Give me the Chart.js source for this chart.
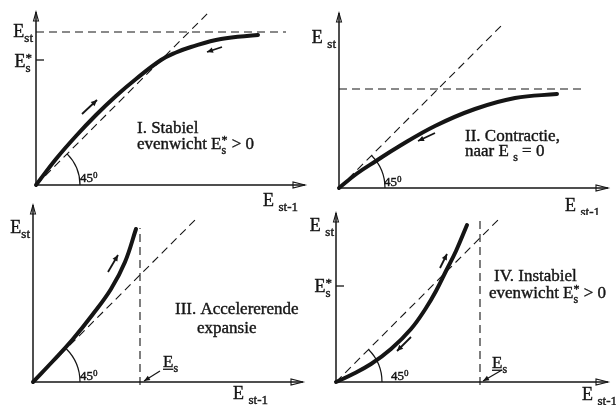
<!DOCTYPE html>
<html>
<head>
<meta charset="utf-8">
<script src="https://cdn.jsdelivr.net/npm/chart.js@4"></script>
<style>
  html, body { margin: 0; padding: 0; background: #fff; }
  #wrap { position: relative; width: 616px; height: 405px; overflow: hidden; background: #fff; }
  canvas { position: absolute; }
</style>
</head>
<body>
<div id="wrap">
  <canvas id="p1"></canvas>
  <canvas id="p2"></canvas>
  <canvas id="p3"></canvas>
  <canvas id="p4"></canvas>
</div>
<script>
const FONT = '"Liberation Serif", "DejaVu Serif", serif';
const INK = '#151515';

// curve points (units = px from each panel origin, y up)
const curveI   = [[0,0],[20,26],[40,49],[60,70],[80,89],[100,106],[125,125],[140,132.5],[155,138],[185,146],[222,150]];
const curveII  = [[0,0],[18,14.5],[37,27],[59,41],[96,62],[136,79],[176,90],[218,94]];
const curveIII = [[0,0],[20,21],[40,43],[60,68],[78,93],[92,120],[103,153]];
const curveIV  = [[0,0],[15,7],[35,18],[55,33],[75,53],[90,74],[100,91],[110,111],[120,131],[131,157]];

const diagonalEnd = [172, 162, 165, 162];   // end of the 45 degree line
const stLevel     = [153, 99, null, null];  // horizontal dashed level
const esLevel     = [null, null, 107, 144]; // vertical dashed at E_s
const esStar      = [125, null, null, 96];  // E_s* tick
const xAxisEnd    = [269, 269, 270, 272];
const yAxisEnd    = [173, 175, 177, 169];

const captions = [
  ['I. Stabiel', 'evenwicht E_{s}^{*} > 0'],
  ['II. Contractie,', 'naar E _{s} = 0'],
  ['III. Accelererende', 'expansie'],
  ['IV. Instabiel', 'evenwicht E_{s}^{*} > 0'],
];
const yLabels = ['E_{st}', 'E _{st}', 'E_{st}', 'E _{st}'];
const xLabel = 'E _{st-1}';
const starLabel = 'E_{s}^{*}';
const esLabel = 'E_{s}';
const degLabel = '45^{0}';

// panel placement
const panels = [
  { id: 'p1', left: 0,   top: 0,   ox: 36, oy: 185, curve: curveI,   arcR: 44,
    deg: [44, 7], yLab: [-3, 154], starLab: [-4, 124], cap: [[101, 58], [101, 42]], xLab: [227, -15],
    arrows: [[46, 71, 61, 85], [186, 138, 171, 133]] },
  { id: 'p2', left: 308, top: 0,   ox: 31, oy: 188, curve: curveII,  arcR: 46,
    deg: [45, 6], yLab: [-3, 151], cap: [[126, 53], [126, 38]], xLab: [226, -17],
    arrows: [[96, 55, 79, 47]] },
  { id: 'p3', left: 0,   top: 190, ox: 33, oy: 192, curve: curveIII, arcR: 47,
    deg: [47, 6], yLab: [-3, 155], cap: [[142, 74], [164, 55]], xLab: [200, -11],
    esLab: [130, 21], pointer: [127, 11, 111, 1],
    arrows: [[75, 110, 85, 127]] },
  { id: 'p4', left: 308, top: 190, ox: 28, oy: 192, curve: curveIV,  arcR: 46,
    deg: [55, 6], yLab: [-2, 157], starLab: [-4, 96], cap: [[158, 107], [153, 90]], xLab: [246, -12],
    esLab: [156, 20], pointer: [166, 12, 147, 1],
    arrows: [[104, 114, 111, 128], [75, 45, 61, 31]] },
];
const W = 308, H = 215;

function tokens(str) {
  const out = [];
  const re = /([_^])\{([^}]*)\}|([^_^]+)/g;
  let m;
  while ((m = re.exec(str))) {
    if (m[1]) out.push({ k: m[1] === '_' ? 'sub' : 'sup', t: m[2] });
    else out.push({ k: 'n', t: m[3] });
  }
  return out;
}

function drawRich(ctx, str, x, cy, size, align, underline) {
  const small = Math.round(size * 0.7);
  const items = [];
  let cx = 0, subX = 0, subW = 0, lastSub = false;
  for (const tk of tokens(str)) {
    const sz = tk.k === 'n' ? size : small;
    ctx.font = sz + 'px ' + FONT;
    const w = ctx.measureText(tk.t).width;
    if (tk.k === 'sup' && lastSub) {
      items.push({ ...tk, x: subX, sz });
      cx = subX + Math.max(subW, w);
      lastSub = false;
    } else {
      items.push({ ...tk, x: cx, sz });
      lastSub = tk.k === 'sub';
      if (lastSub) { subX = cx; subW = w; }
      cx += w;
    }
  }
  const x0 = align === 'right' ? x - cx : x;
  const base = cy + size * 0.33;
  ctx.textAlign = 'left';
  ctx.textBaseline = 'alphabetic';
  ctx.fillStyle = INK;
  ctx.strokeStyle = INK;
  ctx.lineWidth = 0.4;
  for (const it of items) {
    ctx.font = it.sz + 'px ' + FONT;
    const dy = it.k === 'sub' ? size * 0.3 : it.k === 'sup' ? -size * 0.3 : 0;
    ctx.fillText(it.t, x0 + it.x, base + dy);
    ctx.strokeText(it.t, x0 + it.x, base + dy);
  }
  if (underline) {
    ctx.font = size + 'px ' + FONT;
    const w = ctx.measureText(items[0].t.charAt(0)).width;
    ctx.fillRect(x0, base + 2, w, 1.3);
  }
}

function arrowHead(ctx, x1, y1, x2, y2, len, half, fill) {
  const a = Math.atan2(y2 - y1, x2 - x1);
  ctx.beginPath();
  ctx.moveTo(x2, y2);
  ctx.lineTo(x2 - len * Math.cos(a) + half * Math.sin(a), y2 - len * Math.sin(a) - half * Math.cos(a));
  ctx.lineTo(x2 - len * Math.cos(a) - half * Math.sin(a), y2 - len * Math.sin(a) + half * Math.cos(a));
  ctx.closePath();
  if (fill) ctx.fill(); else ctx.stroke();
}

function decor(p, i) {
  return {
    id: 'decor' + i,
    afterDatasetsDraw(chart) {
      const ctx = chart.ctx;
      const sx = v => chart.scales.x.getPixelForValue(v);
      const sy = v => chart.scales.y.getPixelForValue(v);
      ctx.save();
      ctx.strokeStyle = INK;
      ctx.fillStyle = INK;
      ctx.lineWidth = 1.2;

      // 45 degree arc
      ctx.beginPath();
      ctx.arc(sx(0), sy(0), p.arcR, -Math.PI / 4, 0);
      ctx.stroke();

      // axis arrowheads (open)
      ctx.lineWidth = 1.1;
      arrowHead(ctx, sx(0), sy(0), sx(xAxisEnd[i]), sy(0), 12, 3, false);
      arrowHead(ctx, sx(0), sy(0), sx(0), sy(yAxisEnd[i]), 9, 2.5, false);

      // E_s* tick
      if (esStar[i] !== null) {
        ctx.lineWidth = 1.3;
        ctx.beginPath();
        ctx.moveTo(sx(0), sy(esStar[i]));
        ctx.lineTo(sx(8), sy(esStar[i]));
        ctx.stroke();
      }

      // direction arrows along the curve
      ctx.lineWidth = 1.8;
      for (const a of p.arrows) {
        const x1 = sx(a[0]), y1 = sy(a[1]), x2 = sx(a[2]), y2 = sy(a[3]);
        ctx.beginPath();
        ctx.moveTo(x1, y1);
        ctx.lineTo(x2, y2);
        ctx.stroke();
        arrowHead(ctx, x1, y1, x2, y2, 6, 2.8, true);
      }

      // pointer to E_s
      if (p.pointer) {
        const a = p.pointer;
        ctx.lineWidth = 1.2;
        ctx.beginPath();
        ctx.moveTo(sx(a[0]), sy(a[1]));
        ctx.lineTo(sx(a[2]), sy(a[3]));
        ctx.stroke();
        arrowHead(ctx, sx(a[0]), sy(a[1]), sx(a[2]), sy(a[3]), 6, 2.5, true);
      }

      // texts
      drawRich(ctx, yLabels[i], sx(p.yLab[0]), sy(p.yLab[1]), 18, 'right');
      if (p.starLab) drawRich(ctx, starLabel, sx(p.starLab[0]), sy(p.starLab[1]), 18, 'right');
      drawRich(ctx, xLabel, sx(p.xLab[0]), sy(p.xLab[1]), 18, 'left');
      drawRich(ctx, degLabel, sx(p.deg[0]), sy(p.deg[1]), 13, 'left');
      captions[i].forEach((line, k) => drawRich(ctx, line, sx(p.cap[k][0]), sy(p.cap[k][1]), 17, 'left'));
      if (p.esLab) drawRich(ctx, esLabel, sx(p.esLab[0]), sy(p.esLab[1]), 17, 'left', true);
      ctx.restore();
    }
  };
}

function line(points, opts) {
  return Object.assign({
    data: points.map(([x, y]) => ({ x, y })),
    showLine: true,
    borderColor: INK,
    borderWidth: 1.5,
    pointRadius: 0,
    fill: false,
  }, opts);
}

panels.forEach((p, i) => {
  const el = document.getElementById(p.id);
  el.width = W;
  el.height = H;
  el.style.left = p.left + 'px';
  el.style.top = p.top + 'px';

  const datasets = [
    line([[0, 0], [xAxisEnd[i], 0]], { borderWidth: 1.5 }),
    line([[0, 0], [0, yAxisEnd[i]]], { borderWidth: 1.5 }),
    line([[0, 0], [diagonalEnd[i], diagonalEnd[i]]], { borderWidth: 1.1, borderDash: [8, 5] }),
  ];
  if (stLevel[i] !== null) {
    const xEnd = i === 0 ? 250 : 246;
    datasets.push(line([[0, stLevel[i]], [xEnd, stLevel[i]]], { borderWidth: 1.1, borderDash: [8, 5] }));
  }
  if (esLevel[i] !== null) {
    const top = i === 2 ? 154 : 165;
    datasets.push(line([[esLevel[i], -3], [esLevel[i], top]], { borderWidth: 1.1, borderDash: [8, 5] }));
  }
  datasets.push(line(p.curve, {
    borderWidth: 4, tension: 0.4, borderCapStyle: 'round', borderJoinStyle: 'round'
  }));

  new Chart(el, {
    type: 'scatter',
    data: { datasets },
    options: {
      responsive: false,
      animation: false,
      events: [],
      layout: { padding: 0 },
      plugins: { legend: { display: false }, tooltip: { enabled: false } },
      scales: {
        x: { type: 'linear', display: false, min: -p.ox, max: W - p.ox },
        y: { type: 'linear', display: false, min: -(H - p.oy), max: p.oy },
      },
    },
    plugins: [decor(p, i)],
  });
});
</script>
</body>
</html>
